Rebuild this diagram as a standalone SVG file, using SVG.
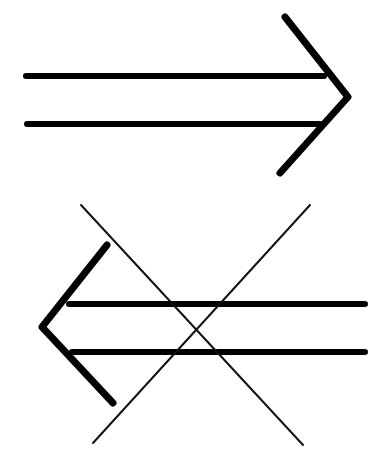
<svg xmlns="http://www.w3.org/2000/svg" width="390" height="451" viewBox="0 0 390 451">
<style>
.bar{stroke:#000;stroke-width:6;stroke-linecap:round;fill:none}
.head{stroke:#000;stroke-width:7;stroke-linecap:round;stroke-linejoin:round;fill:none}
.cross{stroke:#111;stroke-width:2;stroke-linecap:round;fill:none}
</style>
<rect width="390" height="451" fill="#fff"/>
<g id="right-arrow">
<line class="bar" x1="26" y1="76" x2="324" y2="76"/>
<line class="bar" x1="27" y1="124" x2="320" y2="124"/>
<polyline class="head" points="285,17 348,97 280,173"/>
</g>
<g id="left-arrow">
<line class="bar" x1="69" y1="304" x2="365" y2="304"/>
<line class="bar" x1="72" y1="352" x2="365" y2="352"/>
<polyline class="head" points="107,245 42,327 113,403"/>
</g>
<g id="cross">
<line class="cross" x1="81" y1="205" x2="303" y2="445"/>
<line class="cross" x1="310" y1="205" x2="93" y2="443"/>
</g>
</svg>
